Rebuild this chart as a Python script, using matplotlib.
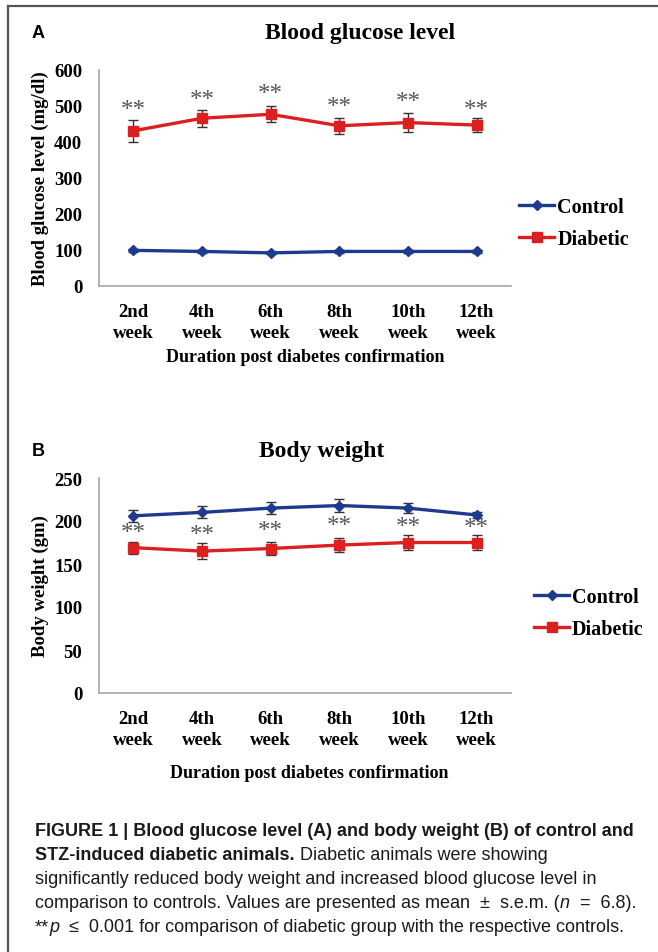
import numpy as np
import matplotlib
matplotlib.use("Agg")
import matplotlib.pyplot as plt
from matplotlib.lines import Line2D

# data
weeks = ["2nd\nweek", "4th\nweek", "6th\nweek", "8th\nweek", "10th\nweek", "12th\nweek"]

glu_control = [99, 96, 92, 96, 96, 96]
glu_control_err = [4, 4, 4, 4, 4, 4]
glu_diabetic = [431, 466, 477, 445, 454, 447]
glu_diabetic_err = [31, 24, 22, 23, 26, 20]
glu_stars = [490, 518, 532, 496, 510, 490]

bw_control = [206, 210, 215, 218, 215, 207]
bw_control_err = [7, 7, 7, 8, 6, 3]
bw_diabetic = [169, 165, 168, 172, 175, 175]
bw_diabetic_err = [7, 9, 8, 8, 9, 9]
bw_stars = [186, 184, 188, 194, 193, 192]

W, H = 658, 953
BLUE = "#1d3a8f"
RED = "#dc1f1f"
SERIF = "Liberation Serif"

fig = plt.figure(figsize=(W / 100, H / 100), dpi=100)


def px_axes(left, top, right, bottom):
    return fig.add_axes([left / W, 1 - bottom / H, (right - left) / W, (bottom - top) / H])


def panel(ax, control, control_err, diabetic, diabetic_err, stars, ymax, step, ylabel):
    x = np.arange(len(weeks))
    ax.errorbar(x, control, yerr=control_err, color=BLUE, lw=2.4, marker="D", ms=5.5,
                ecolor="#333333", elinewidth=1, capsize=3.5, capthick=1)
    ax.errorbar(x, diabetic, yerr=diabetic_err, color=RED, lw=2.4, marker="s", ms=7.5,
                ecolor="#333333", elinewidth=1, capsize=3.5, capthick=1)
    for xi, s in zip(x, stars):
        ax.text(xi, s, "**", ha="center", va="center", color="#555555",
                fontsize=18, family=SERIF)
    ax.set_xlim(-0.5, len(weeks) - 0.5)
    ax.set_ylim(0, ymax)
    ax.set_yticks(np.arange(0, ymax + 1, step))
    ax.set_xticks(x)
    ax.set_xticklabels(weeks, linespacing=1.35)
    for lab in ax.get_xticklabels() + ax.get_yticklabels():
        lab.set_family(SERIF)
        lab.set_fontweight("bold")
        lab.set_fontsize(13.5)
    ax.tick_params(length=0, pad=12)
    ax.tick_params(axis="y", pad=12)
    for sp in ["top", "right"]:
        ax.spines[sp].set_visible(False)
    for sp in ["left", "bottom"]:
        ax.spines[sp].set_color("#a6a6a6")
        ax.spines[sp].set_linewidth(1.2)
    ax.set_ylabel(ylabel, family=SERIF, fontweight="bold", fontsize=13.5, labelpad=4)
    handles = [Line2D([], [], color=BLUE, lw=2.4, marker="D", ms=5.5),
               Line2D([], [], color=RED, lw=2.4, marker="s", ms=7.5)]
    return handles


legend_kw = dict(frameon=False, prop={"family": SERIF, "weight": "bold", "size": 14.5},
                 handlelength=1.75, handletextpad=0.15, labelspacing=0.6, borderaxespad=0)

axA = px_axes(99, 71, 511, 287)
hA = panel(axA, glu_control, glu_control_err, glu_diabetic, glu_diabetic_err, glu_stars,
           600, 100, "Blood glucose level (mg/dl)")
axA.legend(hA, ["Control", "Diabetic"], loc="center left", bbox_to_anchor=(1.0, 0.29),
           **legend_kw)
axA.text(0.5, -0.325, "Duration post diabetes confirmation", transform=axA.transAxes,
         ha="center", va="center", family=SERIF, fontweight="bold", fontsize=13)

axB = px_axes(99, 479, 511, 694)
hB = panel(axB, bw_control, bw_control_err, bw_diabetic, bw_diabetic_err, bw_stars,
           250, 50, "Body weight (gm)")
axB.legend(hB, ["Control", "Diabetic"], loc="center left", bbox_to_anchor=(1.036, 0.37),
           **legend_kw)
axB.text(0.51, -0.37, "Duration post diabetes confirmation", transform=axB.transAxes,
         ha="center", va="center", family=SERIF, fontweight="bold", fontsize=13)

# titles and panel letters
fig.text(360 / W, 1 - 34 / H, "Blood glucose level", ha="center", va="center",
         family=SERIF, fontweight="bold", fontsize=17)
fig.text(322 / W, 1 - 452 / H, "Body weight", ha="center", va="center",
         family=SERIF, fontweight="bold", fontsize=17)
fig.text(32 / W, 1 - 34 / H, "A", ha="left", va="center", family="Liberation Sans",
         fontweight="bold", fontsize=13)
fig.text(32 / W, 1 - 452 / H, "B", ha="left", va="center", family="Liberation Sans",
         fontweight="bold", fontsize=13)

# frame lines
fig.add_artist(Line2D([8 / W, 1], [1 - 6.5 / H, 1 - 6.5 / H], color="#555555", lw=1.6,
                      transform=fig.transFigure))
fig.add_artist(Line2D([8 / W, 8 / W], [0, 1 - 6.5 / H], color="#555555", lw=1.6,
                      transform=fig.transFigure))

# caption, drawn segment by segment
caption = [
    [("FIGURE 1 | Blood glucose level (A) and body weight (B) of control and", "bold", "normal")],
    [("STZ-induced diabetic animals.", "bold", "normal"),
     (" Diabetic animals were showing", "normal", "normal")],
    [("significantly reduced body weight and increased blood glucose level in", "normal", "normal")],
    [("comparison to controls. Values are presented as mean  \u00b1  s.e.m. (", "normal", "normal"),
     ("n", "normal", "italic"), ("  =  6.8).", "normal", "normal")],
    [("**", "normal", "normal"), ("p", "normal", "italic"),
     ("  \u2264  0.001 for comparison of diabetic group with the respective controls.", "normal", "normal")],
]
line_y = [832, 856, 880, 904, 928]
renderer = fig.canvas.get_renderer()
for segs, yy in zip(caption, line_y):
    xx = 35
    for txt, wt, st in segs:
        t = fig.text(xx / W, 1 - yy / H, txt, ha="left", va="center", family="Liberation Sans",
                     fontweight=wt, style=st, fontsize=13, color="#1a1a1a")
        bb = t.get_window_extent(renderer=renderer)
        xx += bb.width

fig.savefig("out.png", dpi=100)
